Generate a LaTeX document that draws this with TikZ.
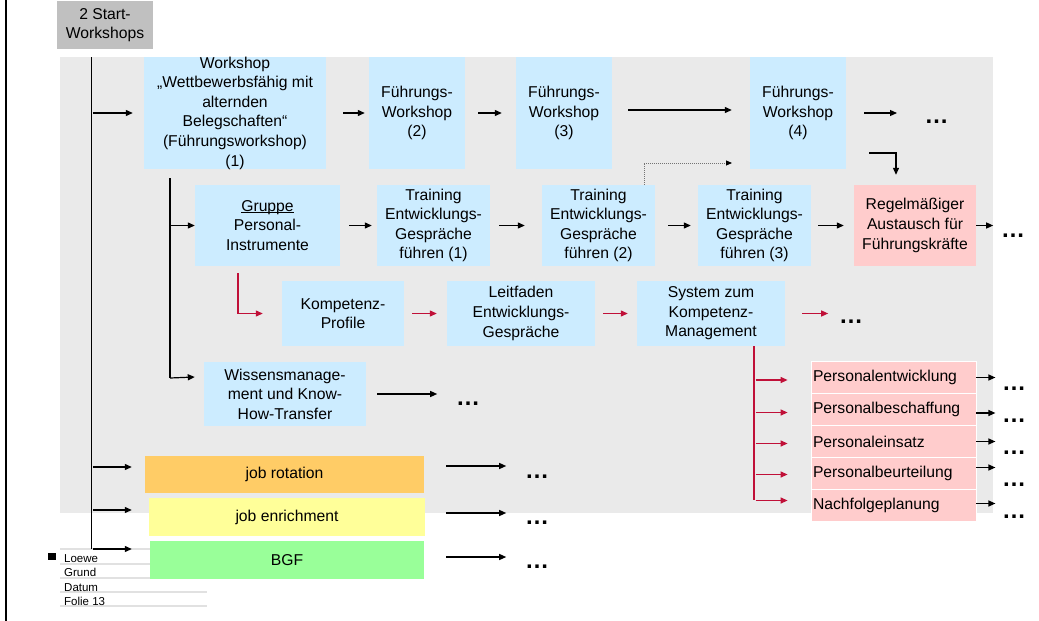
\documentclass[tikz,border=0pt]{standalone}
\usepackage{fontspec}
\setmainfont{Liberation Sans}
\usetikzlibrary{arrows.meta}
\definecolor{bgray}{RGB}{234,234,234}
\definecolor{lblue}{RGB}{204,236,255}
\definecolor{lpink}{RGB}{255,204,204}
\definecolor{lorange}{RGB}{255,204,102}
\definecolor{lyellow}{RGB}{255,255,153}
\definecolor{lgreen}{RGB}{153,255,153}
\definecolor{sgray}{RGB}{192,192,192}
\definecolor{dred}{RGB}{192,16,56}
\definecolor{fgray}{RGB}{225,225,225}
\newcommand\ulword[1]{\setbox0\hbox{#1}\rlap{\rule[-2pt]{\wd0}{0.9pt}}\box0}
\tikzset{
  box/.style={fill=lblue, draw=none, inner sep=0pt, align=center,
    font=\fontsize{15.7}{19.6}\selectfont},
  plist/.style={fill=lpink, draw=white, line width=0.8pt, inner xsep=2pt, inner ysep=0pt,
    minimum height=32pt, text width=161pt, align=left,
    font=\fontsize{15.7}{19.6}\selectfont},
  arr/.style={line width=1.2pt, -{Triangle[length=7pt,width=6pt]}},
  rarr/.style={arr, draw=dred},
  dotted arr/.style={line width=1pt, draw=black!55, dash pattern=on 1pt off 1pt,
    -{Triangle[length=6pt,width=5pt,color=black]}},
  dots/.style={inner sep=0pt, font=\fontsize{24}{24}\selectfont\bfseries},
  foot/.style={anchor=base west, inner sep=0pt, font=\fontsize{11.5}{14}\selectfont},
}
\begin{document}
\begin{tikzpicture}[x=1pt,y=-1pt]
\useasboundingbox (0,0) rectangle (1039,621);
\fill[bgray] (60,57) rectangle (993,513);
\draw[line width=2.5pt] (6,0) -- (6,621);
% footer
\foreach \yy in {549,564,578,592,606} \draw[fgray,line width=1.5pt] (60,\yy) -- (207,\yy);
\fill (48,553) rectangle (56,560);
\node[foot] (fa) at (64,562) {Loewe};
\node[foot] (fb) at (64,576) {Grund};
\node[foot] (fc) at (64,591) {Datum};
\node[foot] (fd) at (64,605) {Folie 13};
% boxes
\node[box, fill=sgray, minimum width=96pt, minimum height=48pt] (start) at (105,25) {2 Start-\\Workshops};
\node[box, minimum width=182pt, minimum height=112pt] (w1) at (235,113) {Workshop\\„Wettbewerbsfähig mit\\alternden\\Belegschaften“\\(Führungsworkshop)\\(1)};
\node[box, minimum width=96pt, minimum height=112pt] (f2) at (417,113) {Führungs-\\Workshop\\(2)};
\node[box, minimum width=96pt, minimum height=112pt] (f3) at (564,113) {Führungs-\\Workshop\\(3)};
\node[box, minimum width=96pt, minimum height=112pt] (f4) at (798,113) {Führungs-\\Workshop\\(4)};
\node[dots] (d1) at (936.5,122) {…};
\node[box, minimum width=145pt, minimum height=81pt] (gr) at (267.5,225.5) {\ulword{Gruppe}\\Personal-\\Instrumente};
\node[box, minimum width=113pt, minimum height=81pt] (t1) at (433.5,225.5) {Training\\Entwicklungs-\\Gespräche\\führen (1)};
\node[box, minimum width=113pt, minimum height=81pt] (t2) at (598.5,225.5) {Training\\Entwicklungs-\\Gespräche\\führen (2)};
\node[box, minimum width=113pt, minimum height=81pt] (t3) at (754.5,225.5) {Training\\Entwicklungs-\\Gespräche\\führen (3)};
\node[box, fill=lpink, minimum width=122pt, minimum height=81pt] (reg) at (915,225.5) {Regelmäßiger\\Austausch für\\Führungskräfte};
\node[dots] (d2) at (1013,236) {…};
\node[box, minimum width=122pt, minimum height=65pt] (kp) at (343,313.5) {Kompetenz-\\Profile};
\node[box, minimum width=148pt, minimum height=65pt] (lf) at (521,313.5) {Leitfaden\\Entwicklungs-\\Gespräche};
\node[box, minimum width=148pt, minimum height=65pt] (sy) at (711,313.5) {System zum\\Kompetenz-\\Management};
\node[dots] (d3) at (851,322) {…};
\node[box, minimum width=162pt, minimum height=64pt] (wm) at (285,394) {Wissensmanage-\\ment und Know-\\How-Transfer};
\node[dots] (d4) at (468,404) {…};
\node[box, fill=lorange, minimum width=279pt, minimum height=37pt] (jr) at (284.5,474.5) {job rotation};
\node[box, fill=lyellow, minimum width=276pt, minimum height=38pt] (je) at (287,517) {job enrichment};
\node[box, fill=lgreen, minimum width=274pt, minimum height=38pt] (bgf) at (287,560) {BGF};
\node[dots] (d5) at (537,477) {…};
\node[dots] (d6) at (537,523) {…};
\node[dots] (d7) at (537,567) {…};
\node[plist] (p1) at (893.5,377.5) {Personalentwicklung};
\node[plist] (p2) at (893.5,409.5) {Personalbeschaffung};
\node[plist] (p3) at (893.5,441.5) {Personaleinsatz};
\node[plist] (p4) at (893.5,473.5) {Personalbeurteilung};
\node[plist] (p5) at (893.5,505.5) {Nachfolgeplanung};
\node[dots] (e1) at (1014,389) {…};
\node[dots] (e2) at (1014,421) {…};
\node[dots] (e3) at (1014,453) {…};
\node[dots] (e4) at (1014,485) {…};
\node[dots] (e5) at (1014,517) {…};
% main vertical line
\coordinate (mtop) at (91.5,57);
\coordinate (mbot) at (91.5,549);
\draw[line width=1.3pt] (mtop) -- (mbot);
\draw[arr] ([xshift=-51pt]w1.west) -- ([xshift=-11pt]w1.west);
\draw[arr] ([xshift=-52pt,yshift=7.5pt]jr.west) -- ([xshift=-13pt,yshift=7.5pt]jr.west);
\draw[arr] ([xshift=-56pt,yshift=7pt]je.west) -- ([xshift=-17pt,yshift=7pt]je.west);
\draw[arr] ([xshift=-57pt,yshift=11pt]bgf.west) -- ([xshift=-18pt,yshift=11pt]bgf.west);
% row 1
\draw[arr] ([xshift=17pt]w1.east) -- ([xshift=-4pt]f2.west);
\draw[arr] ([xshift=13pt]f2.east) -- ([xshift=-14pt]f3.west);
\draw[arr] ([xshift=16pt,yshift=3pt]f3.east) -- ([xshift=-18pt,yshift=3pt]f4.west);
\coordinate (d1a) at (897,113);
\draw[arr] ([xshift=18pt]f4.east) -- (d1a);
\coordinate (b1) at (869,153);
\draw[arr] (b1) -| ([xshift=-19pt,yshift=10pt]reg.north);
\coordinate (dt) at (732,163);
\draw[dotted arr] ([xshift=45.5pt]t2.north) |- (dt);
% row 2
\coordinate (v2top) at (170,178);
\coordinate (v2bot) at (170,378);
\draw[line width=1.2pt] (v2top) -- (v2bot);
\draw[arr] (v2top |- gr.west) -- (gr.west);
\draw[arr] ([xshift=9pt]gr.east) -- ([xshift=-5pt]t1.west);
\draw[arr] ([xshift=9pt]t1.east) -- ([xshift=-17pt]t2.west);
\draw[arr] ([xshift=13pt]t2.east) -- ([xshift=-7pt]t3.west);
\draw[arr] ([xshift=7pt]t3.east) -- ([xshift=-10pt]reg.west);
\draw[arr] (reg.east) -- ([xshift=17pt]reg.east);
% row 3
\draw[rarr] ([xshift=-29.5pt,yshift=-7pt]gr.south) |- ([xshift=-19pt]kp.west);
\draw[rarr] ([xshift=8pt]kp.east) -- ([xshift=-10pt]lf.west);
\draw[rarr] ([xshift=8pt]lf.east) -- ([xshift=-9pt]sy.west);
\draw[rarr] ([xshift=17pt]sy.east) -- ([xshift=43pt]sy.east);
% wissensmanagement
\draw[arr] (v2bot) -- ([xshift=-9pt,yshift=17pt]wm.west);
\draw[arr] ([xshift=11pt]wm.east) -- ([xshift=71pt]wm.east);
% bottom rows
\draw[arr] ([xshift=22pt,yshift=8.5pt]jr.east) -- ([xshift=82pt,yshift=8.5pt]jr.east);
\draw[arr] ([xshift=21pt,yshift=4pt]je.east) -- ([xshift=81pt,yshift=4pt]je.east);
\draw[arr] ([xshift=22pt,yshift=3pt]bgf.east) -- ([xshift=82pt,yshift=3pt]bgf.east);
% red tree
\coordinate (rv) at (754,500);
\draw[line width=1.2pt, dred] ([xshift=43pt]sy.south) -- (rv);
\draw[rarr] ([xshift=-55pt,yshift=-2.5pt]p1.west) -- ([xshift=-23pt,yshift=-2.5pt]p1.west);
\draw[rarr] ([xshift=-55pt,yshift=-3pt]p2.west) -- ([xshift=-23pt,yshift=-3pt]p2.west);
\draw[rarr] ([xshift=-55pt,yshift=-2pt]p3.west) -- ([xshift=-23pt,yshift=-2pt]p3.west);
\draw[rarr] ([xshift=-55pt,yshift=-1pt]p4.west) -- ([xshift=-23pt,yshift=-1pt]p4.west);
\draw[rarr] ([xshift=-55pt,yshift=5pt]p5.west) -- ([xshift=-23pt,yshift=5pt]p5.west);
% pink arrows
\draw[arr] (p1.east) -- ([xshift=19pt]p1.east);
\draw[arr] ([yshift=-3.5pt]p2.east) -- ([xshift=19pt,yshift=-3.5pt]p2.east);
\draw[arr] (p3.east) -- ([xshift=19pt]p3.east);
\draw[arr] ([yshift=6pt]p4.east) -- ([xshift=19pt,yshift=6pt]p4.east);
\draw[arr] ([yshift=2pt]p5.east) -- ([xshift=19pt,yshift=2pt]p5.east);
\end{tikzpicture}
\end{document}
